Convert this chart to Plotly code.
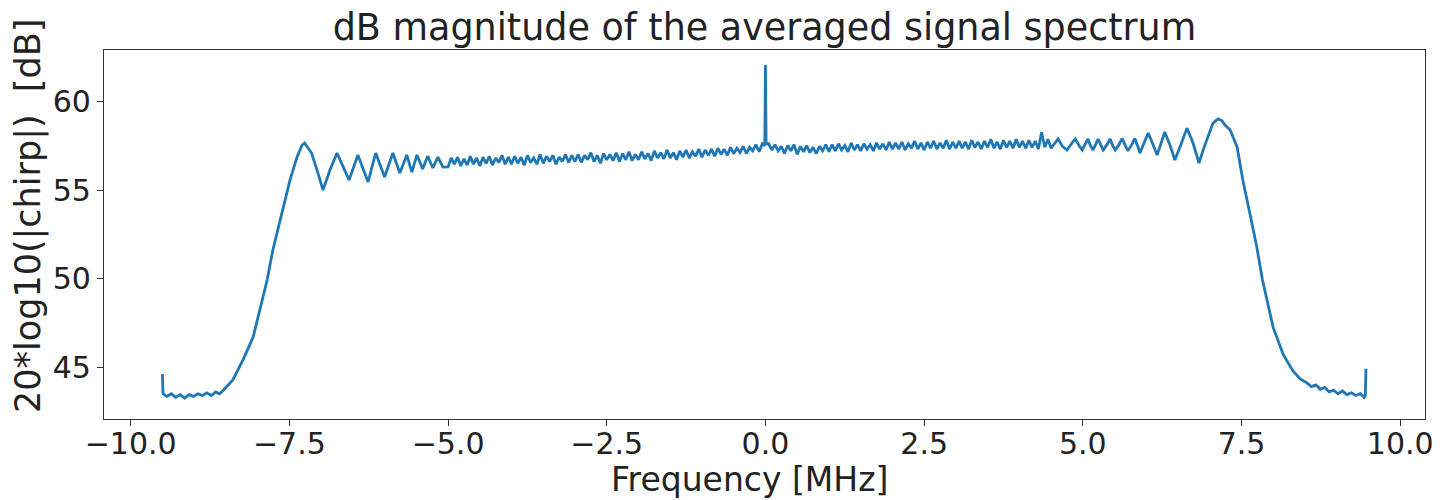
import plotly.graph_objects as go

# ---- data (frequency in MHz, level in dB) ----
freq_left = [-9.50, -9.49, -9.43, -9.36, -9.29, -9.22, -9.15, -9.08, -9.01, -8.94, -8.87,
             -8.80, -8.73, -8.66, -8.60, -8.54, -8.39, -8.23, -8.07, -7.96, -7.85, -7.76,
             -7.62, -7.49, -7.38, -7.30, -7.26, -7.15, -7.05, -6.97, -6.86, -6.75, -6.65,
             -6.56, -6.42, -6.34, -6.26, -6.14, -6.07, -6.00, -5.87, -5.81, -5.76, -5.65,
             -5.57, -5.49, -5.40, -5.32, -5.24, -5.16, -5.08]
db_left = [44.65, 43.55, 43.40, 43.55, 43.35, 43.50, 43.30, 43.50, 43.40, 43.55, 43.45,
           43.60, 43.45, 43.65, 43.55, 43.75, 44.33, 45.45, 46.74, 48.26, 49.94, 51.63,
           53.71, 55.56, 56.85, 57.53, 57.64, 57.08, 55.96, 55.00, 56.12, 57.08, 56.29,
           55.56, 56.97, 56.20, 55.45, 57.08, 56.40, 55.73, 57.08, 56.50, 55.96, 56.97,
           56.01, 56.97, 56.18, 56.91, 56.24, 56.85, 56.29]

freq_mid = [-5.00, -4.95, -4.90, -4.85, -4.80, -4.75, -4.70, -4.65, -4.60, -4.55,
            -4.50, -4.45, -4.40, -4.35, -4.30, -4.25, -4.20, -4.15, -4.10, -4.05,
            -4.00, -3.95, -3.90, -3.85, -3.80, -3.75, -3.70, -3.65, -3.60, -3.55,
            -3.50, -3.45, -3.40, -3.35, -3.30, -3.25, -3.20, -3.15, -3.10, -3.05,
            -3.00, -2.95, -2.90, -2.85, -2.80, -2.75, -2.70, -2.65, -2.60, -2.55,
            -2.50, -2.45, -2.40, -2.35, -2.30, -2.25, -2.20, -2.15, -2.10, -2.05,
            -2.00, -1.95, -1.90, -1.85, -1.80, -1.75, -1.70, -1.65, -1.60, -1.55,
            -1.50, -1.45, -1.40, -1.35, -1.30, -1.25, -1.20, -1.15, -1.10, -1.05,
            -1.00, -0.95, -0.90, -0.85, -0.80, -0.75, -0.70, -0.65, -0.60, -0.55,
            -0.50, -0.45, -0.40, -0.35, -0.30, -0.25, -0.20, -0.15, -0.10, -0.05,
            -0.01, 0.00, 0.01,
            0.05, 0.10, 0.15, 0.20, 0.25, 0.30, 0.35, 0.40, 0.45, 0.50,
            0.55, 0.60, 0.65, 0.70, 0.75, 0.80, 0.85, 0.90, 0.95, 1.00,
            1.05, 1.10, 1.15, 1.20, 1.25, 1.30, 1.35, 1.40, 1.45, 1.50,
            1.55, 1.60, 1.65, 1.70, 1.75, 1.80, 1.85, 1.90, 1.95, 2.00,
            2.05, 2.10, 2.15, 2.20, 2.25, 2.30, 2.35, 2.40, 2.45, 2.50,
            2.55, 2.60, 2.65, 2.70, 2.75, 2.80, 2.85, 2.90, 2.95, 3.00,
            3.05, 3.10, 3.15, 3.20, 3.25, 3.30, 3.35, 3.40, 3.45, 3.50,
            3.55, 3.60, 3.65, 3.70, 3.75, 3.80, 3.85, 3.90, 3.95, 4.00,
            4.05, 4.10, 4.15, 4.20, 4.25, 4.30, 4.35, 4.40, 4.45, 4.50]
db_mid = [56.30, 56.80, 56.45, 56.85, 56.35, 56.75, 56.40, 56.90, 56.45, 56.80,
          56.35, 56.85, 56.50, 56.90, 56.40, 56.80, 56.55, 56.95, 56.45, 56.85,
          56.45, 56.90, 56.50, 56.85, 56.40, 56.95, 56.55, 56.80, 56.45, 57.00,
          56.50, 56.90, 56.60, 56.95, 56.45, 56.85, 56.60, 57.00, 56.55, 56.95,
          56.60, 57.00, 56.55, 56.95, 56.70, 57.10, 56.60, 56.95, 56.50, 57.05,
          56.70, 57.00, 56.65, 57.10, 56.60, 57.05, 56.70, 57.15, 56.65, 57.00,
          56.70, 57.15, 56.75, 57.05, 56.65, 57.20, 56.80, 57.10, 56.75, 57.25,
          56.80, 57.10, 56.70, 57.20, 56.85, 57.25, 56.80, 57.15, 56.90, 57.30,
          56.85, 57.25, 56.95, 57.30, 56.90, 57.35, 57.00, 57.30, 56.95, 57.40,
          57.05, 57.35, 57.10, 57.45, 57.05, 57.40, 57.20, 57.55, 57.15, 57.60,
          57.50, 62.02, 57.60,
          57.60, 57.25, 57.55, 57.20, 57.45, 57.05, 57.50, 57.20, 57.55, 57.00,
          57.45, 57.15, 57.50, 57.10, 57.40, 57.05, 57.45, 57.20, 57.55, 57.15,
          57.55, 57.20, 57.60, 57.25, 57.50, 57.15, 57.65, 57.25, 57.55, 57.20,
          57.60, 57.30, 57.55, 57.20, 57.65, 57.30, 57.60, 57.25, 57.70, 57.30,
          57.65, 57.30, 57.70, 57.25, 57.60, 57.35, 57.75, 57.30, 57.65, 57.25,
          57.70, 57.35, 57.75, 57.30, 57.65, 57.35, 57.80, 57.30, 57.70, 57.35,
          57.75, 57.35, 57.70, 57.30, 57.80, 57.40, 57.70, 57.30, 57.75, 57.40,
          57.85, 57.35, 57.70, 57.30, 57.80, 57.40, 57.75, 57.35, 57.85, 57.40,
          57.75, 57.35, 57.80, 57.40, 57.75, 57.30, 58.25, 57.40, 57.85, 57.35]

freq_right = [4.61, 4.68, 4.75, 4.82, 4.88, 4.94, 4.99, 5.04, 5.08, 5.12, 5.16, 5.20,
              5.24, 5.28, 5.32, 5.38, 5.43, 5.47, 5.51, 5.57, 5.62, 5.67, 5.71, 5.77,
              5.82, 5.86, 5.90, 5.97, 6.03, 6.10, 6.17, 6.23, 6.29, 6.37, 6.45, 6.55,
              6.64, 6.74, 6.83, 6.90, 6.95, 7.05, 7.13, 7.19, 7.24, 7.32, 7.43, 7.52,
              7.63, 7.74, 7.83, 7.92, 8.00, 8.16, 8.31, 8.42, 8.53, 8.60, 8.67, 8.74,
              8.81, 8.88, 8.95, 9.02, 9.09, 9.16, 9.23, 9.30, 9.37, 9.43, 9.45, 9.46]
db_right = [57.87, 57.45, 57.25, 57.60, 57.87, 57.50, 57.25, 57.60, 57.87, 57.50, 57.25, 57.55,
            57.87, 57.55, 57.25, 57.55, 57.87, 57.50, 57.25, 57.55, 57.90, 57.50, 57.20, 57.55,
            57.90, 57.50, 57.08, 57.70, 58.20, 57.60, 56.97, 57.60, 58.26, 57.55, 56.69, 57.60,
            58.48, 57.60, 56.52, 57.30, 57.80, 58.76, 59.00, 58.90, 58.65, 58.37, 57.42, 55.56,
            53.71, 51.80, 49.94, 48.54, 47.25, 45.73, 44.83, 44.40, 44.16, 43.95, 44.05, 43.80,
            43.90, 43.65, 43.75, 43.55, 43.70, 43.50, 43.60, 43.45, 43.55, 43.35, 43.45, 44.95]

x_ticks = [-10.0, -7.5, -5.0, -2.5, 0.0, 2.5, 5.0, 7.5, 10.0]
y_ticks = [45, 50, 55, 60]

freq = freq_left + freq_mid + freq_right
db = db_left + db_mid + db_right

FONT = "DejaVu Sans"

fig = go.Figure()
fig.add_trace(go.Scatter(x=freq, y=db, mode="lines",
                         line=dict(color="#1f77b4", width=2.8), showlegend=False,
                         hoverinfo="skip"))

axis_common = dict(showgrid=False, zeroline=False, showline=True, mirror=True,
                   linecolor="#333333", linewidth=1.2, ticks="outside", ticklen=6,
                   tickwidth=1.2, tickcolor="#333333",
                   tickfont=dict(family=FONT, size=30, color="#222222"))

fig.update_layout(
    width=1449, height=500,
    margin=dict(l=104, r=24, t=50, b=81),
    paper_bgcolor="white", plot_bgcolor="white",
    title=dict(text="dB magnitude of the averaged signal spectrum",
               font=dict(family=FONT, size=36.5, color="#222222"),
               x=(104 + 1321 / 2) / 1449, xanchor="center",
               yref="container", y=1 - 27 / 500, yanchor="middle"),
    xaxis=dict(range=[-10.42, 10.39], tickvals=x_ticks, tickformat=".1f",
               ticklabelstandoff=-8, **axis_common),
    yaxis=dict(range=[42.13, 62.87], tickvals=y_ticks, **axis_common),
    annotations=[
        dict(text="Frequency [MHz]", xref="paper", yref="paper", x=0.5, xshift=-15, y=0,
             yshift=-60, xanchor="center", yanchor="middle", showarrow=False,
             font=dict(family=FONT, size=33, color="#222222")),
        dict(text="20*log10(|chirp|)  [dB]", xref="paper", yref="paper",
             x=0, xshift=-76, y=(419 - 216) / 369, textangle=-90,
             xanchor="center", yanchor="middle", showarrow=False,
             font=dict(family=FONT, size=35, color="#222222")),
    ],
)

fig.write_html("out.html")
